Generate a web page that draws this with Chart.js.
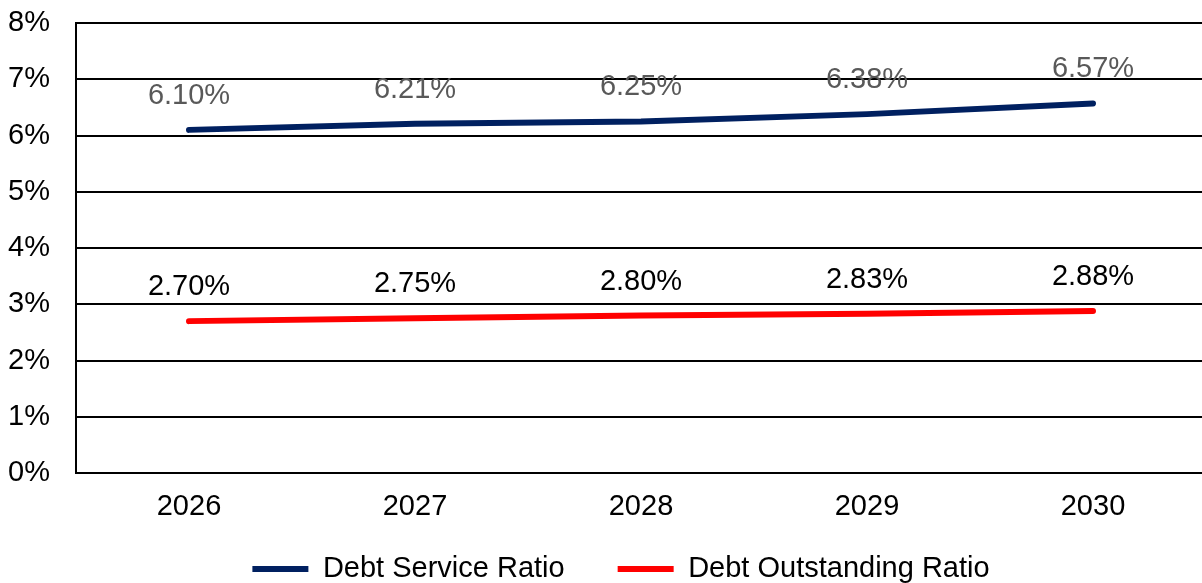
<!DOCTYPE html>
<html>
<head>
<meta charset="utf-8">
<script src="https://cdn.jsdelivr.net/npm/chart.js@4/dist/chart.umd.min.js"></script>
<style>
  html, body { margin: 0; padding: 0; overflow: hidden; background: #fff; }
  #wrap { position: absolute; left: 0; top: 0; width: 1206px; height: 625px; }
</style>
</head>
<body>
<div id="wrap"><canvas id="ratioChart"></canvas></div>
<script>
// years on the x axis
const years = ['2026', '2027', '2028', '2029', '2030'];
// ratios in percent
const debtService = [6.10, 6.21, 6.25, 6.38, 6.57];
const debtOutstanding = [2.70, 2.75, 2.80, 2.83, 2.88];
const seriesNames = ['Debt Service Ratio', 'Debt Outstanding Ratio'];
const yMin = 0, yMax = 8, yStep = 1;

const FONT = "'Liberation Sans', Arial, sans-serif";

// draws the value above each point
const valueLabels = {
    id: 'valueLabels',
    afterDatasetsDraw(chart) {
        const ctx = chart.ctx;
        ctx.save();
        ctx.font = '29px ' + FONT;
        ctx.textAlign = 'center';
        ctx.textBaseline = 'middle';
        chart.data.datasets.forEach((ds, i) => {
            const meta = chart.getDatasetMeta(i);
            ctx.fillStyle = ds.labelColor;
            meta.data.forEach((pt, j) => {
                ctx.fillText(ds.data[j].toFixed(2) + '%', pt.x, pt.y - 34);
            });
        });
        ctx.restore();
    }
};

// move the legend a bit up and right, like the original
const legendNudge = {
    id: 'legendNudge',
    afterLayout(chart) {
        const lg = chart.legend;
        if (!lg) return;
        lg.top -= 31.5; lg.bottom -= 31.5;
        lg.left += 14; lg.right += 14;
    }
};

const ctx = document.getElementById('ratioChart');
new Chart(ctx, {
    type: 'line',
    data: {
        labels: years,
        datasets: [{
            label: seriesNames[0],
            data: debtService,
            borderColor: '#002060',
            backgroundColor: '#002060',
            labelColor: '#595959',
            borderWidth: 6,
            borderCapStyle: 'round',
            pointRadius: 0,
            tension: 0
        }, {
            label: seriesNames[1],
            data: debtOutstanding,
            borderColor: '#ff0000',
            backgroundColor: '#ff0000',
            labelColor: '#000000',
            borderWidth: 6,
            borderCapStyle: 'round',
            pointRadius: 0,
            tension: 0
        }]
    },
    options: {
        responsive: true,
        maintainAspectRatio: false,
        animation: false,
        layout: { padding: { top: 23, left: 8, right: 0, bottom: 0 } },
        scales: {
            x: {
                offset: true,
                grid: { display: false, drawTicks: false },
                border: { display: false },
                ticks: { color: '#000', padding: 17, font: { family: FONT, size: 29 } },
                afterFit(scale) { scale.height = 60; }
            },
            y: {
                min: yMin,
                max: yMax,
                ticks: {
                    stepSize: yStep,
                    color: '#000',
                    padding: 0,
                    crossAlign: 'far',
                    font: { family: FONT, size: 29 },
                    callback: v => v + '%'
                },
                grid: { color: '#000', lineWidth: 2, drawTicks: false },
                border: { color: '#000', width: 2 },
                afterFit(scale) { scale.width = 68; }
            }
        },
        plugins: {
            legend: {
                position: 'bottom',
                labels: {
                    usePointStyle: true,
                    pointStyle: 'line',
                    pointStyleWidth: 56,
                    padding: 53,
                    color: '#000',
                    font: { family: FONT, size: 29 }
                }
            },
            tooltip: { enabled: false }
        }
    },
    plugins: [valueLabels, legendNudge]
});
</script>
</body>
</html>
